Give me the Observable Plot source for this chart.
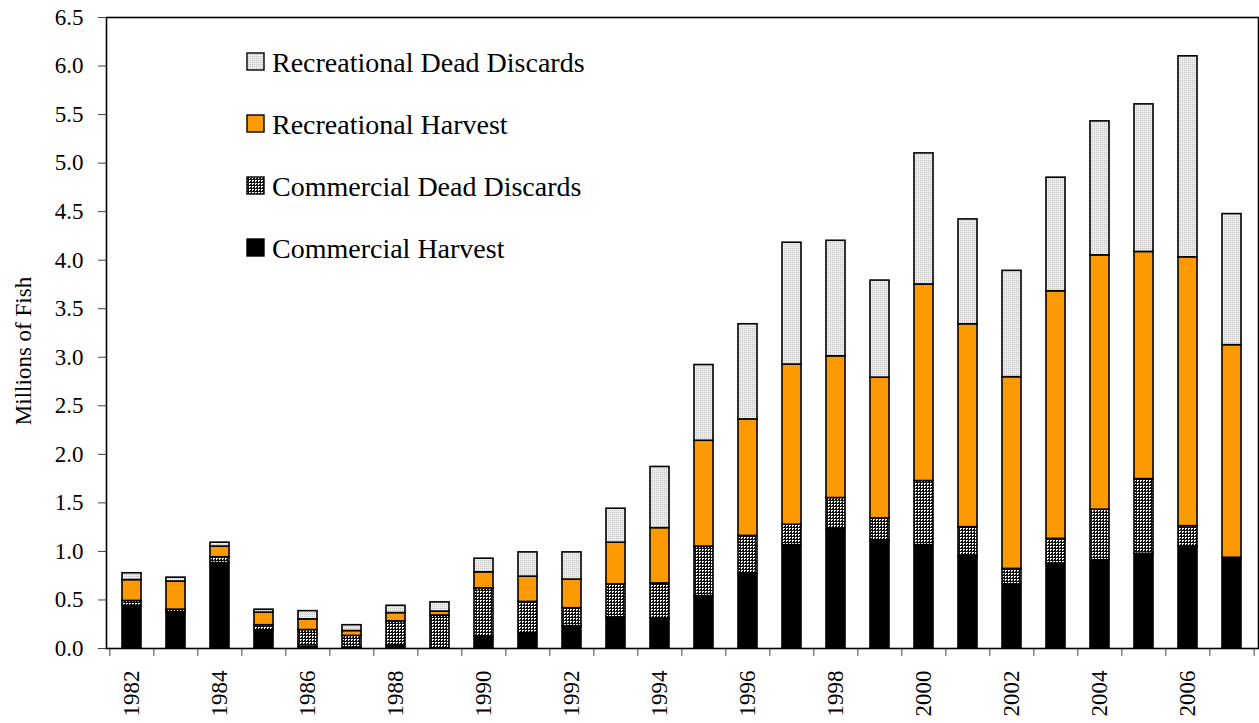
<!DOCTYPE html>
<html>
<head>
<meta charset="utf-8">
<script src="https://cdn.jsdelivr.net/npm/d3@7"></script>
<script src="https://cdn.jsdelivr.net/npm/@observablehq/plot@0.6"></script>
<style>
  html, body { margin: 0; padding: 0; background: #fff; }
  #chart svg { display: block; }
</style>
</head>
<body>
<div id="chart"></div>
<script>
const years = [1982,1983,1984,1985,1986,1987,1988,1989,1990,1991,1992,1993,1994,1995,1996,1997,1998,1999,2000,2001,2002,2003,2004,2005,2006,2007];
const seriesNames = ["Commercial Harvest","Commercial Dead Discards","Recreational Harvest","Recreational Dead Discards"];
const commercialHarvest = [0.44,0.37,0.88,0.185,0.02,0.01,0.035,0,0.12,0.16,0.23,0.32,0.31,0.54,0.77,1.065,1.23,1.11,1.065,0.95,0.66,0.875,0.91,0.975,1.05,0.935];
const commercialDeadDiscards = [0.05,0.03,0.06,0.055,0.17,0.12,0.245,0.34,0.50,0.32,0.185,0.34,0.36,0.51,0.39,0.21,0.32,0.23,0.66,0.30,0.16,0.255,0.52,0.77,0.21,0];
const recreationalHarvest = [0.215,0.29,0.11,0.13,0.11,0.05,0.085,0.04,0.165,0.26,0.295,0.43,0.57,1.09,1.20,1.65,1.46,1.45,2.025,2.09,1.975,2.55,2.62,2.34,2.77,2.19];
const recreationalDeadDiscards = [0.07,0.04,0.04,0.03,0.085,0.06,0.075,0.095,0.14,0.25,0.28,0.35,0.63,0.78,0.98,1.255,1.19,1.00,1.35,1.08,1.095,1.17,1.38,1.52,2.07,1.35];
const yTicks = [0,0.5,1,1.5,2,2.5,3,3.5,4,4.5,5,5.5,6,6.5];
const xLabelTicks = [1982,1984,1986,1988,1990,1992,1994,1996,1998,2000,2002,2004,2006];
const yLabel = "Millions of Fish";

const fills = {
  "Commercial Harvest": "#000000",
  "Commercial Dead Discards": "url(#pat-cdd)",
  "Recreational Harvest": "#FF9900",
  "Recreational Dead Discards": "url(#pat-rdd)"
};
const valuesBySeries = [commercialHarvest, commercialDeadDiscards, recreationalHarvest, recreationalDeadDiscards];

const data = [];
years.forEach((yr, i) => {
  seriesNames.forEach((s, j) => {
    data.push({year: yr, series: s, value: valuesBySeries[j][i]});
  });
});

const W = 1259, H = 723;
const mL = 106, mR = 1, mT = 17, mB = 75;
const step = (W - mL - mR) / years.length;
const font = "'Liberation Serif', 'Times New Roman', serif";

const svg = Plot.plot({
  width: W,
  height: H,
  marginLeft: mL,
  marginRight: mR,
  marginTop: mT,
  marginBottom: mB,
  style: {fontFamily: font, fontSize: "23px", color: "#000", background: "#fff"},
  x: {domain: years, paddingInner: 0.56, paddingOuter: 0.28, axis: null},
  y: {domain: [0, 6.5], axis: null},
  color: {type: "identity"},
  marks: [
    Plot.barY(data, Plot.stackY({
      x: "year",
      y: "value",
      order: seriesNames,
      z: "series",
      fill: d => fills[d.series],
      stroke: "#000",
      strokeWidth: 1.6,
      filter: d => d.value > 0
    })),
    Plot.axisY({ticks: yTicks, tickFormat: d3.format(".1f"), tickSize: 8, tickPadding: 15, label: null, stroke: "#444", fontSize: 23}),
    Plot.axisX({ticks: years, tickSize: 8, text: null, label: null, dx: -step / 2, stroke: "#444"}),
    Plot.axisX({ticks: [years[years.length - 1]], tickSize: 8, text: null, label: null, dx: step / 2, stroke: "#444"}),
    Plot.axisX({ticks: xLabelTicks, tickSize: 0, tickPadding: 22, tickRotate: -90, tickFormat: d => String(d), label: null, fontSize: 23}),
    Plot.frame({stroke: "#000", strokeWidth: 1.6})
  ]
});

const root = d3.select(svg);
const defs = root.insert("defs", ":first-child");
const pc = defs.append("pattern").attr("id", "pat-cdd").attr("patternUnits", "userSpaceOnUse").attr("width", 3).attr("height", 3);
pc.append("rect").attr("width", 3).attr("height", 3).attr("fill", "#111");
pc.append("rect").attr("x", 0).attr("y", 0).attr("width", 2).attr("height", 1).attr("fill", "#fff").attr("shape-rendering", "crispEdges");
pc.append("rect").attr("x", 0).attr("y", 1).attr("width", 1).attr("height", 1).attr("fill", "#fff").attr("shape-rendering", "crispEdges");
const pr = defs.append("pattern").attr("id", "pat-rdd").attr("patternUnits", "userSpaceOnUse").attr("width", 2).attr("height", 2);
pr.append("rect").attr("width", 2).attr("height", 2).attr("fill", "#ececec");
pr.append("rect").attr("x", 0).attr("y", 0).attr("width", 1).attr("height", 1).attr("fill", "#c4c4c4");

// y-axis title
root.append("text")
  .attr("transform", `translate(31, 351) rotate(-90)`)
  .attr("text-anchor", "middle")
  .attr("font-family", font)
  .attr("font-size", 23)
  .attr("fill", "#000")
  .text(yLabel);

// legend (top to bottom order as in reference)
const legendOrder = seriesNames.slice().reverse();
const lg = root.append("g").attr("text-anchor", "start");
legendOrder.forEach((s, i) => {
  const cy = 62 + i * 62;
  lg.append("rect").attr("x", 247).attr("y", cy - 9).attr("width", 17).attr("height", 17)
    .attr("fill", fills[s]).attr("stroke", "#000").attr("stroke-width", 1.4);
  lg.append("text").attr("x", 272).attr("y", cy).attr("dy", "0.35em").attr("text-anchor", "start")
    .attr("font-family", font).attr("font-size", 28).attr("fill", "#000").text(s);
});

document.getElementById("chart").appendChild(svg);
</script>
</body>
</html>
